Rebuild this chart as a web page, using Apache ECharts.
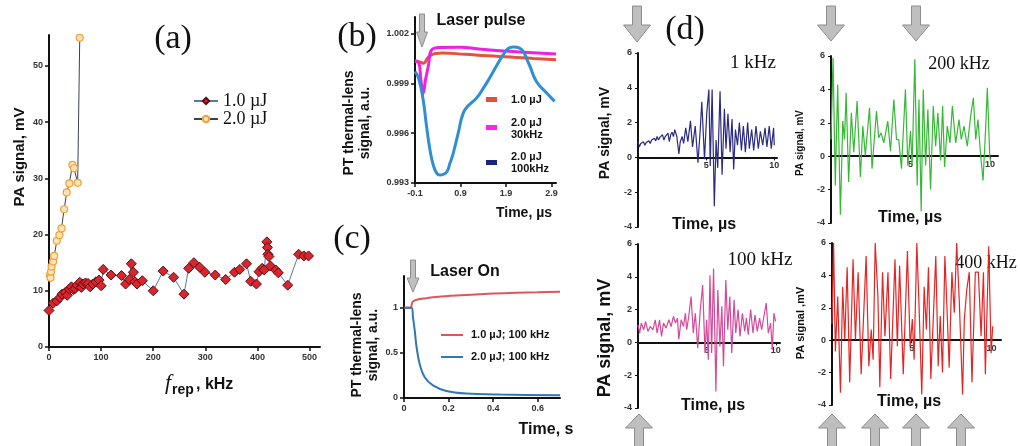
<!DOCTYPE html>
<html>
<head>
<meta charset="utf-8">
<script src="https://cdn.jsdelivr.net/npm/echarts@6/dist/echarts.min.js"></script>
<style>
html,body{margin:0;padding:0;background:#fff;}
#main{width:1020px;height:446px;}
</style>
</head>
<body>
<div id="main"></div>
<script>
// (a) PA signal vs repetition rate
var aLowX = [0,8,15,21,25,31,35,39,43,47,50,54,59,62,65,70,75,79,84,90,96,100,104,119,139,147,154,158,162,165,169,179,200,219,239,259,268,278,289,299,319,339,356,366,379,387,398,403,409,413,418,419,420,422,425,435,440,458,479,489,498];
var aLowY = [6.5,7.8,8.2,8.8,9.4,9.7,9.2,10.3,10.7,10.2,10.4,11.0,11.5,10.6,11.2,11.4,11.3,10.7,11.2,11.6,11.9,10.9,13.8,12.8,12.7,11.2,12.0,14.8,13.3,11.6,11.2,11.8,10.0,13.5,12.4,9.4,14.0,15.0,14.2,13.3,12.8,12.0,13.3,13.8,14.8,11.7,11.2,13.4,14.0,13.7,18.7,17.7,16.5,16.1,14.4,13.7,13.2,11.0,16.5,16.2,16.2];
var aHighX = [2,3,4,5,8,10,15,20,24,29,34,39,45,48,55,59];
var aHighY = [12.8,12.3,13.4,14.3,15.2,16.2,18.9,19.9,21.1,24.5,27.5,29.1,32.4,31.8,29.2,55.0];

// (b) thermal-lens signal after one pulse (time in us)
var bRedT = [-0.1,0.0,0.08,0.2,0.35,0.5,1.0,1.5,2.0,2.5,3.0];
var bRedV = [1.00036,1.00030,1.00022,1.00060,1.00080,1.00083,1.00075,1.00066,1.00059,1.00050,1.00042];
var bMagT = [-0.1,-0.02,0.03,0.08,0.13,0.19,0.27,0.45,0.9,1.3,1.98,2.5,3.0];
var bMagV = [1.00032,1.00025,0.9992,0.99841,0.9992,1.0000,1.00103,1.00117,1.00118,1.00107,1.00093,1.00085,1.00077];
var bBlueT = [-0.1,-0.02,0.08,0.15,0.23,0.3,0.38,0.45,0.52,0.6,0.67,0.74,0.85,0.96,1.07,1.25,1.4,1.54,1.7,1.84,1.95,2.06,2.2,2.4,2.57,2.8,2.97];
var bBlueV = [0.99972,0.9993,0.9980,0.9965,0.99499,0.9941,0.99358,0.99348,0.99352,0.99368,0.9942,0.99479,0.9960,0.99721,0.99765,0.99811,0.9987,0.99932,1.0001,1.00073,1.0011,1.00119,1.00113,1.0002,0.99912,0.9984,0.99792];

// (c) laser on (time in s)
var cRedT = [0,0.03,0.035,0.04,0.06,0.1,0.13,0.2,0.28,0.4,0.5,0.6,0.7];
var cRedV = [1.0,1.0,1.04,1.067,1.09,1.105,1.115,1.13,1.14,1.155,1.165,1.17,1.175];
var cBlueT = [0,0.035,0.04,0.048,0.056,0.07,0.093,0.13,0.19,0.28,0.43,0.7];
var cBlueV = [1.0,1.0,0.9,0.75,0.57,0.38,0.23,0.14,0.078,0.049,0.038,0.03];

// (d) PA waveforms [t (us), mV]
var d1k = [[0,0.9],[0.1,0.6],[0.2,0.8],[0.3,0.75],[0.4,0.9],[0.5,0.7],[0.6,0.85],[0.7,0.75],[0.8,0.95],[0.9,0.8],[1.0,1.0],[1.1,0.9],[1.2,1.1],[1.3,0.95],[1.4,1.2],[1.5,1.0],[1.6,1.15],[1.7,1.05],[1.8,1.3],[1.9,1.0],[2.0,1.2],[2.1,1.1],[2.2,1.4],[2.3,0.9],[2.4,1.3],[2.5,1.45],[2.6,1.2],[2.7,1.6],[2.85,1.2],[3.0,0.2],[3.1,0.9],[3.24,1.2],[3.35,0.8],[3.5,1.7],[3.66,0.9],[3.85,2.1],[4.0,0.6],[4.2,1.8],[4.4,-0.3],[4.56,1.5],[4.68,3.2],[4.88,-0.1],[5.05,2.6],[5.2,3.9],[5.3,-0.5],[5.44,3.9],[5.6,-2.8],[5.73,1.0],[5.85,-0.6],[6.02,3.8],[6.17,-1.0],[6.34,2.8],[6.46,0.5],[6.6,2.5],[6.76,0.3],[6.9,2.2],[7.02,-0.7],[7.15,1.6],[7.3,0.7],[7.44,2.0],[7.59,0.4],[7.73,1.8],[7.88,0.3],[8.05,2.0],[8.17,0.5],[8.34,1.6],[8.49,0.4],[8.66,1.8],[8.83,0.5],[8.98,1.5],[9.15,0.7],[9.32,1.7],[9.46,0.6],[9.63,1.8],[9.78,0.5],[9.95,1.7],[10.0,0.7]];
var d200k = [[0,1.0],[0.13,5.9],[0.27,-1.75],[0.42,4.3],[0.59,-3.5],[0.74,2.1],[0.85,1.0],[0.95,3.8],[1.11,-1.55],[1.28,2.6],[1.43,0.24],[1.64,3.3],[1.85,-1.25],[2.0,1.8],[2.16,0.04],[2.42,2.9],[2.58,-0.75],[2.86,2.7],[3.0,1.1],[3.15,1.4],[3.32,0.8],[3.57,2.1],[3.74,0.3],[3.95,3.4],[4.12,1.0],[4.26,1.0],[4.43,-0.75],[4.68,4.0],[4.83,-0.55],[5.0,1.5],[5.1,-0.55],[5.27,5.8],[5.42,-1.75],[5.53,3.4],[5.67,-3.3],[5.8,4.0],[5.95,-0.55],[6.09,2.8],[6.26,-2.0],[6.43,3.0],[6.58,0.6],[6.72,2.6],[6.89,-0.26],[7.02,3.0],[7.14,-0.65],[7.31,1.8],[7.48,0.8],[7.63,3.0],[7.84,0.8],[8.05,2.2],[8.19,1.0],[8.36,1.8],[8.57,0.6],[8.78,2.4],[8.95,3.5],[9.1,1.0],[9.24,2.2],[9.41,0.04],[9.56,-1.45],[9.73,1.8],[9.83,4.1],[9.98,0.04],[10.04,-0.36]];
var d100k = [[0,1.07],[0.12,0.57],[0.24,1.18],[0.41,0.77],[0.55,1.28],[0.72,0.67],[0.89,0.97],[1.08,0.77],[1.25,1.38],[1.39,0.57],[1.56,1.38],[1.71,0.37],[1.85,1.18],[2.04,0.87],[2.24,1.38],[2.4,0.97],[2.57,1.58],[2.72,1.18],[2.86,1.48],[2.96,0.2],[3.13,1.38],[3.3,0.97],[3.44,1.78],[3.53,0.77],[3.68,1.58],[3.85,2.8],[4.01,0.57],[4.16,1.78],[4.33,-0.35],[4.52,2.0],[4.69,3.5],[4.86,-0.65],[4.98,1.38],[5.1,-1.05],[5.22,4.1],[5.34,-0.65],[5.48,4.5],[5.65,-3.0],[5.79,3.2],[5.94,-0.25],[6.08,2.2],[6.2,-1.45],[6.37,3.8],[6.51,0.77],[6.66,2.8],[6.8,-0.65],[6.97,2.6],[7.09,0.57],[7.26,2.0],[7.4,0.37],[7.57,1.78],[7.74,0.67],[7.86,1.48],[8.0,0.47],[8.17,2.0],[8.34,0.57],[8.49,1.68],[8.65,0.67],[8.82,1.48],[8.97,0.77],[9.13,1.58],[9.3,2.4],[9.45,0.57],[9.62,1.18],[9.74,-0.45],[9.86,1.78],[9.98,1.28]];
var d400k = [[0,1.0],[0.1,6.0],[0.21,-0.7],[0.36,2.7],[0.53,-3.25],[0.67,3.3],[0.8,0.04],[0.95,4.5],[1.11,-2.6],[1.32,5.0],[1.47,0.04],[1.64,4.2],[1.83,-2.1],[2.14,5.2],[2.31,-1.6],[2.46,0.66],[2.58,-1.2],[2.71,6.0],[2.88,2.7],[3.0,-2.9],[3.17,4.2],[3.32,0.25],[3.51,4.2],[3.68,-2.4],[3.95,5.0],[4.1,-0.37],[4.24,4.6],[4.47,-2.1],[4.73,5.5],[4.9,-0.37],[5.04,1.3],[5.15,-1.2],[5.32,6.0],[5.46,2.1],[5.63,-3.35],[5.78,3.3],[5.92,0.66],[6.05,4.5],[6.2,-2.4],[6.51,5.2],[6.66,-1.6],[6.79,1.5],[6.93,-2.0],[7.08,5.2],[7.2,2.3],[7.35,-1.7],[7.52,4.2],[7.67,1.7],[7.82,6.0],[7.98,2.5],[8.19,-3.35],[8.3,1.3],[8.45,3.1],[8.61,4.2],[8.78,-2.6],[8.99,4.2],[9.18,4.2],[9.35,0.25],[9.5,4.2],[9.62,-2.1],[9.83,5.8],[9.98,-0.8],[10.08,0.86]];

function zip(xs, ys, shift) {
  return xs.map(function (x, i) { return [x + (shift || 0), ys[i]]; });
}

var SANS = 'Arial, "Liberation Sans", sans-serif';
var SERIF = '"Liberation Serif", "DejaVu Serif", serif';
var tickLab = { color: '#333', fontSize: 9, fontWeight: 'bold', fontFamily: SANS, margin: 6 };
var axLine = { show: true, onZero: false, lineStyle: { color: '#111', width: 2 } };
var tick = { show: true, length: 4, lineStyle: { color: '#111', width: 1.5 } };

function xAx(grid, min, max, interval, extra) {
  var o = { type: 'value', gridIndex: grid, min: min, max: max, interval: interval,
    axisLine: axLine, axisTick: tick, splitLine: { show: false },
    axisLabel: Object.assign({}, tickLab, { showMaxLabel: false }) };
  return Object.assign(o, extra || {});
}
function yAx(grid, min, max, interval, extra) {
  var o = { type: 'value', gridIndex: grid, min: min, max: max, interval: interval,
    axisLine: axLine, axisTick: tick, splitLine: { show: false },
    axisLabel: Object.assign({}, tickLab, { showMaxLabel: false }) };
  return Object.assign(o, extra || {});
}
// x axis of (d) sits on the zero line: shift it up by 40% of the grid height
function dX(grid, max, h) {
  return { type: 'value', gridIndex: grid, min: 0, max: max, interval: 5, position: 'bottom', offset: -h * 0.4,
    axisLine: { show: true, onZero: false, lineStyle: { color: '#111', width: 2 } },
    axisTick: { show: true, length: 3, lineStyle: { color: '#111' } }, splitLine: { show: false },
    axisLabel: Object.assign({}, tickLab, { showMinLabel: false, showMaxLabel: false, margin: 4 }) };
}
function dY(grid) {
  return { type: 'value', gridIndex: grid, min: -4, max: 6, interval: 2,
    axisLine: axLine, axisTick: { show: true, length: 3, lineStyle: { color: '#111' } },
    splitLine: { show: false }, axisLabel: Object.assign({}, tickLab, { showMaxLabel: true }) };
}
function wave(idx, data, color) {
  return { type: 'line', xAxisIndex: idx, yAxisIndex: idx, data: data, showSymbol: false,
    lineStyle: { color: color, width: 1.2 } };
}

function downArrow(cx, top, headTop, tip, sw, hw) {
  return { type: 'polygon', shape: { points: [[cx - sw / 2, top], [cx + sw / 2, top], [cx + sw / 2, headTop], [cx + hw / 2, headTop], [cx, tip], [cx - hw / 2, headTop], [cx - sw / 2, headTop]] },
    style: { fill: '#bfbfbf', stroke: '#8c8c8c', lineWidth: 1 } };
}
function upArrow(cx, tip, headBase, bottom, sw, hw) {
  return { type: 'polygon', shape: { points: [[cx, tip], [cx + hw / 2, headBase], [cx + sw / 2, headBase], [cx + sw / 2, bottom], [cx - sw / 2, bottom], [cx - sw / 2, headBase], [cx - hw / 2, headBase]] },
    style: { fill: '#bfbfbf', stroke: '#8c8c8c', lineWidth: 1 } };
}
function txt(x, y, s, font, extra) {
  var o = { type: 'text', x: x, y: y, style: { text: s, font: font, fill: '#111', textAlign: 'center', textVerticalAlign: 'middle' } };
  return Object.assign(o, extra || {});
}
function vtxt(x, y, s, font, lh) {
  return { type: 'text', x: x, y: y, rotation: Math.PI / 2,
    style: { text: s, font: font, fill: '#111', textAlign: 'center', textVerticalAlign: 'middle', lineHeight: lh || 16 } };
}

var option = {
  backgroundColor: '#fff',
  animation: false,
  grid: [
    { left: 49, top: 35, width: 271, height: 312 },
    { left: 415, top: 17, width: 141, height: 166 },
    { left: 404, top: 276, width: 156, height: 122 },
    { left: 638, top: 53, width: 139, height: 174 },
    { left: 831, top: 56, width: 167, height: 167 },
    { left: 638, top: 244, width: 142, height: 164 },
    { left: 832, top: 243, width: 169, height: 162 }
  ],
  xAxis: [
    xAx(0, 0, 520, 100),
    xAx(1, 0, 3.1, 1, { axisLabel: Object.assign({}, tickLab, { showMaxLabel: false, formatter: function (v) { return (v - 0.1).toFixed(1); } }) }),
    xAx(2, 0, 0.7, 0.2, { axisLabel: Object.assign({}, tickLab, { showMaxLabel: false, formatter: function (v) { return v === 0 ? '0' : v.toFixed(1); } }) }),
    dX(3, 10.2, 174), dX(4, 10.5, 167), dX(5, 10.3, 164), dX(6, 10.6, 162)
  ],
  yAxis: [
    yAx(0, 0, 55.5, 10),
    yAx(1, 0.993, 1.003, 0.003, { axisLabel: Object.assign({}, tickLab, { showMaxLabel: false, formatter: function (v) { return v.toFixed(3); } }) }),
    yAx(2, 0, 1.35, 0.5),
    dY(3), dY(4), dY(5), dY(6)
  ],
  legend: {
    data: ['1.0 µJ', '2.0 µJ'], left: 188, top: 87, orient: 'vertical', itemWidth: 24, itemHeight: 8, itemGap: 0,
    textStyle: { fontFamily: SERIF, fontSize: 18, color: '#111' }
  },
  series: [
    { name: '1.0 µJ', type: 'line', xAxisIndex: 0, yAxisIndex: 0, data: zip(aLowX, aLowY),
      symbol: 'diamond', symbolSize: 10, lineStyle: { color: '#5a78a8', width: 1 },
      itemStyle: { color: '#d8262f', borderColor: '#5e0b12', borderWidth: 1 } },
    { name: '2.0 µJ', type: 'line', xAxisIndex: 0, yAxisIndex: 0, data: zip(aHighX, aHighY),
      symbol: 'circle', symbolSize: 7, lineStyle: { color: '#3a4050', width: 1 },
      itemStyle: { color: '#fde3b6', borderColor: '#f0a03a', borderWidth: 1.2 } },
    { type: 'line', xAxisIndex: 1, yAxisIndex: 1, data: zip(bRedT, bRedV, 0.1), smooth: true, showSymbol: false, lineStyle: { color: '#e0553c', width: 3 } },
    { type: 'line', xAxisIndex: 1, yAxisIndex: 1, data: zip(bMagT, bMagV, 0.1), smooth: true, showSymbol: false, lineStyle: { color: '#f21ee6', width: 3 } },
    { type: 'line', xAxisIndex: 1, yAxisIndex: 1, data: zip(bBlueT, bBlueV, 0.1), smooth: true, showSymbol: false, lineStyle: { color: '#2f8fd2', width: 3 } },
    { type: 'line', xAxisIndex: 2, yAxisIndex: 2, data: zip(cRedT, cRedV), smooth: 0.3, showSymbol: false, lineStyle: { color: '#e0555a', width: 2 } },
    { type: 'line', xAxisIndex: 2, yAxisIndex: 2, data: zip(cBlueT, cBlueV), smooth: 0.3, showSymbol: false, lineStyle: { color: '#2f78b8', width: 2 } },
    wave(3, d1k, '#2b2b80'),
    wave(4, d200k, '#36b836'),
    wave(5, d100k, '#d24a9c'),
    wave(6, d400k, '#e52424')
  ],
  graphic: [
    // panel letters
    txt(173, 39, '(a)', '34px ' + SERIF),
    txt(357, 37, '(b)', '34px ' + SERIF),
    txt(352, 239, '(c)', '34px ' + SERIF),
    txt(685, 30, '(d)', '34px ' + SERIF),
    // (a) axis titles
    vtxt(20, 157, 'PA signal, mV', 'bold 15px ' + SANS),
    { type: 'text', x: 165, y: 383, style: { text: 'f', font: 'italic 22px ' + SERIF, fill: '#111', textAlign: 'left', textVerticalAlign: 'middle' } },
    { type: 'text', x: 172, y: 390, style: { text: 'rep', font: 'bold 14px ' + SANS, fill: '#111', textAlign: 'left', textVerticalAlign: 'middle' } },
    { type: 'text', x: 196, y: 385, style: { text: ', kHz', font: 'bold 16px ' + SANS, fill: '#111', textAlign: 'left', textVerticalAlign: 'middle' } },
    // (b)
    vtxt(357, 123, 'PT thermal-lens\nsignal, a.u.', 'bold 14px ' + SANS, 16),
    txt(481, 21, 'Laser pulse', 'bold 16px ' + SANS),
    txt(524, 213, 'Time, µs', 'bold 14px ' + SANS),
    downArrow(422, 14, 32, 47, 5, 11),
    { type: 'rect', shape: { x: 486, y: 97, width: 11, height: 5 }, style: { fill: '#e0503a' } },
    { type: 'rect', shape: { x: 486, y: 125, width: 11, height: 5 }, style: { fill: '#ff22ee' } },
    { type: 'rect', shape: { x: 486, y: 160, width: 11, height: 5 }, style: { fill: '#1a237e' } },
    { type: 'text', x: 511, y: 100, style: { text: '1.0 µJ', font: 'bold 11px ' + SANS, fill: '#111', textVerticalAlign: 'middle' } },
    { type: 'text', x: 511, y: 129, style: { text: '2.0 µJ\n30kHz', font: 'bold 11px ' + SANS, fill: '#111', textVerticalAlign: 'middle', lineHeight: 12 } },
    { type: 'text', x: 511, y: 163, style: { text: '2.0 µJ\n100kHz', font: 'bold 11px ' + SANS, fill: '#111', textVerticalAlign: 'middle', lineHeight: 12 } },
    // (c)
    vtxt(365, 345, 'PT thermal-lens\nsignal, a.u.', 'bold 14px ' + SANS, 16),
    txt(465, 272, 'Laser On', 'bold 16px ' + SANS),
    txt(546, 430, 'Time, s', 'bold 16px ' + SANS),
    downArrow(413, 260, 278, 292, 5, 12),
    { type: 'line', shape: { x1: 441, y1: 335, x2: 463, y2: 335 }, style: { stroke: '#e0555a', lineWidth: 2 } },
    { type: 'line', shape: { x1: 441, y1: 357, x2: 463, y2: 357 }, style: { stroke: '#2f78b8', lineWidth: 2 } },
    { type: 'text', x: 471, y: 335, style: { text: '1.0 µJ; 100 kHz', font: 'bold 11px ' + SANS, fill: '#111', textVerticalAlign: 'middle' } },
    { type: 'text', x: 471, y: 357, style: { text: '2.0 µJ; 100 kHz', font: 'bold 11px ' + SANS, fill: '#111', textVerticalAlign: 'middle' } },
    // (d)
    txt(753, 63, '1 kHz', '19px ' + SERIF),
    txt(959, 64, '200 kHz', '18px ' + SERIF),
    txt(760, 260, '100 kHz', '19px ' + SERIF),
    txt(986, 263, '400 kHz', '18px ' + SERIF),
    txt(704, 225, 'Time, µs', 'bold 16px ' + SANS),
    txt(910, 218, 'Time, µs', 'bold 16px ' + SANS),
    txt(713, 406, 'Time, µs', 'bold 16px ' + SANS),
    txt(909, 402, 'Time, µs', 'bold 16px ' + SANS),
    vtxt(605, 133, 'PA signal, mV', 'bold 14px ' + SANS),
    vtxt(800, 143, 'PA signal, mV', 'bold 10px ' + SANS),
    vtxt(605, 338, 'PA signal, mV', 'bold 18px ' + SANS),
    vtxt(801, 323, 'PA signal ,mV', 'bold 11px ' + SANS),
    downArrow(637, 6, 25, 42, 9, 27),
    downArrow(831, 6, 25, 41, 9, 27),
    downArrow(916, 6, 25, 41, 9, 27),
    upArrow(639, 414, 428, 450, 9, 27),
    upArrow(832, 414, 428, 450, 9, 27),
    upArrow(875, 414, 428, 450, 9, 27),
    upArrow(916, 414, 428, 450, 9, 27),
    upArrow(961, 414, 428, 450, 9, 27)
  ]
};

var chart = echarts.init(document.getElementById('main'));
chart.setOption(option);
</script>
</body>
</html>
